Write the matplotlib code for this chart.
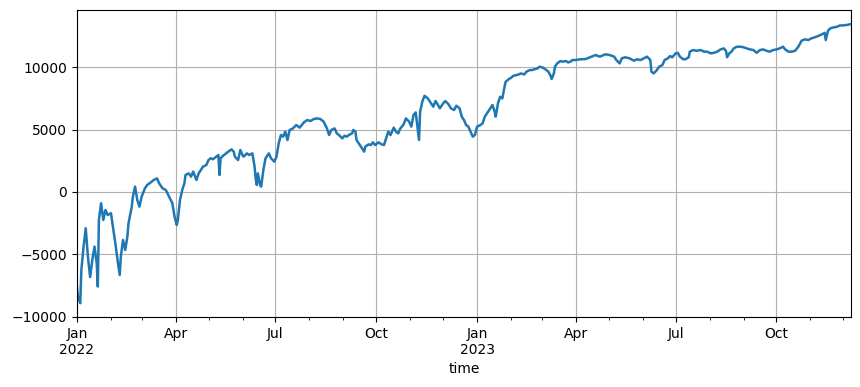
import pandas as pd
import matplotlib.pyplot as plt
import matplotlib.dates as mdates
from matplotlib.ticker import FuncFormatter

# days since 2022-01-01 and the cumulative value
day = [0, 1, 3, 4, 6, 8, 10, 12, 14, 16, 18, 19, 20, 22, 24, 26, 28, 31, 33, 35,
       37, 39, 40, 42, 44, 46, 47, 50, 51, 53, 55, 57, 59, 62, 64, 67, 70, 73, 75, 78,
       81, 84, 87, 89, 91, 92, 94, 96, 98, 99, 102, 104, 106, 109, 111, 113, 115, 118, 120, 122,
       124, 127, 129, 130, 131, 133, 136, 138, 141, 143, 144, 147, 149, 151, 152, 155, 157, 160, 162, 163,
       164, 165, 167, 168, 170, 172, 175, 177, 180, 182, 184, 186, 188, 190, 192, 194, 197, 200, 203, 207,
       210, 213, 216, 219, 222, 225, 228, 230, 232, 235, 237, 239, 242, 244, 246, 248, 251, 252, 254, 255,
       257, 260, 262, 263, 266, 268, 270, 272, 275, 278, 280, 282, 284, 286, 289, 291, 293, 295, 298, 300,
       303, 305, 307, 309, 310, 312, 313, 315, 317, 320, 322, 325, 327, 329, 331, 334, 336, 339, 341, 344,
       346, 349, 351, 353, 355, 357, 359, 361, 363, 365, 368, 370, 372, 374, 377, 379, 381, 382, 384, 386,
       388, 390, 391, 394, 396, 398, 401, 403, 405, 408, 410, 413, 415, 418, 420, 422, 425, 427, 430, 432,
       433, 435, 436, 438, 441, 443, 446, 448, 450, 452, 455, 459, 464, 468, 473, 477, 482, 486, 490, 492,
       495, 497, 500, 504, 508, 511, 514, 517, 520, 523, 524, 526, 529, 531, 534, 536, 539, 541, 543, 546,
       548, 550, 553, 555, 558, 559, 562, 565, 569, 572, 575, 578, 581, 584, 587, 590, 592, 593, 595, 597,
       599, 602, 605, 608, 611, 614, 617, 620, 623, 626, 629, 632, 635, 638, 641, 644, 646, 649, 652, 655,
       658, 661, 664, 667, 670, 673, 676, 680, 682, 683, 685, 687, 690, 693, 696, 699, 703, 706]

value = [-7600, -8400, -8900, -6240, -4400, -2900, -5200, -6800, -5440, -4370, -5700, -7570, -2240, -900, -2240, -1440, -1840, -1700, -2900, -4100,
         -5440, -6640, -5170, -3840, -4640, -3570, -2500, -1170, -370, 430, -640, -1170, -370, 300, 560, 750, 960, 1090, 690, 300,
         160, -370, -900, -1970, -2640, -2240, -640, 160, 700, 1360, 1490, 1230, 1630, 960, 1490, 1760, 2030, 2160, 2560, 2700,
         2620, 2830, 2960, 1360, 2700, 2880, 3090, 3230, 3410, 3230, 2830, 2560, 3360, 2960, 2830, 3090, 2960, 3090, 2030, 1090,
         560, 1490, 560, 430, 1760, 2700, 3090, 2700, 2430, 2830, 3890, 4560, 4430, 4830, 4160, 4960, 5090, 5360, 5150, 5570,
         5760, 5680, 5840, 5890, 5840, 5630, 5090, 4560, 4960, 5090, 4690, 4560, 4290, 4500, 4430, 4560, 4690, 4960, 4830, 4160,
         3890, 3490, 3230, 3630, 3810, 3760, 3970, 3760, 3970, 3810, 3760, 4290, 4830, 4560, 5150, 4830, 4690, 5090, 5410, 5890,
         5630, 5230, 6160, 6370, 5630, 4160, 6430, 7230, 7700, 7490, 7230, 6830, 7280, 7010, 6700, 7090, 7280, 7010, 6700, 6560,
         6900, 6700, 6030, 5760, 5360, 5230, 4830, 4430, 4560, 5230, 5360, 5490, 6030, 6300, 6700, 6960, 6430, 6030, 7090, 7620,
         7490, 8420, 8820, 9040, 9140, 9300, 9360, 9410, 9490, 9410, 9630, 9760, 9760, 9840, 9890, 10030, 9950, 9840, 9630, 9300,
         9040, 9490, 10030, 10290, 10480, 10430, 10480, 10370, 10430, 10560, 10560, 10620, 10640, 10780, 10960, 10830, 11020, 10960, 10830, 10560,
         10290, 10700, 10780, 10700, 10510, 10620, 10560, 10700, 10830, 10560, 9630, 9490, 9760, 10030, 10160, 10560, 10700, 10880, 10780, 11090,
         11140, 10830, 10620, 10620, 10780, 11230, 11360, 11300, 11360, 11230, 11230, 11090, 11140, 11230, 11410, 11490, 11300, 10780, 11090, 11230,
         11490, 11630, 11630, 11580, 11490, 11410, 11360, 11140, 11360, 11410, 11300, 11230, 11360, 11410, 11490, 11630, 11410, 11230, 11230, 11300,
         11630, 12110, 12220, 12160, 12300, 12380, 12480, 12640, 12740, 12160, 12900, 13090, 13170, 13220, 13330, 13330, 13380, 13440]

time = pd.Timestamp('2022-01-01') + pd.to_timedelta(day, unit='D')
s = pd.Series(value, index=time)


def month_label(x, pos):
    d = mdates.num2date(x)
    if d.month == 1:
        return d.strftime('%b\n%Y')
    return d.strftime('%b')


fig, ax = plt.subplots(figsize=(8.6, 3.87), dpi=100)
fig.subplots_adjust(left=0.0895, right=0.9895, top=0.974, bottom=0.181)

ax.plot(s.index, s.values, color='#1f77b4', linewidth=1.8)

ax.set_xlim(s.index[0], s.index[-1])
ax.set_ylim(-10000, 14560)

ax.xaxis.set_major_locator(mdates.MonthLocator(bymonth=[1, 4, 7, 10]))
ax.xaxis.set_minor_locator(mdates.MonthLocator())
ax.xaxis.set_major_formatter(FuncFormatter(month_label))
for lbl in ax.get_xticklabels():
    lbl.set_ha('center')
ax.set_yticks([-10000, -5000, 0, 5000, 10000])

ax.grid(True)
ax.set_xlabel('time')

plt.savefig('out.png')
